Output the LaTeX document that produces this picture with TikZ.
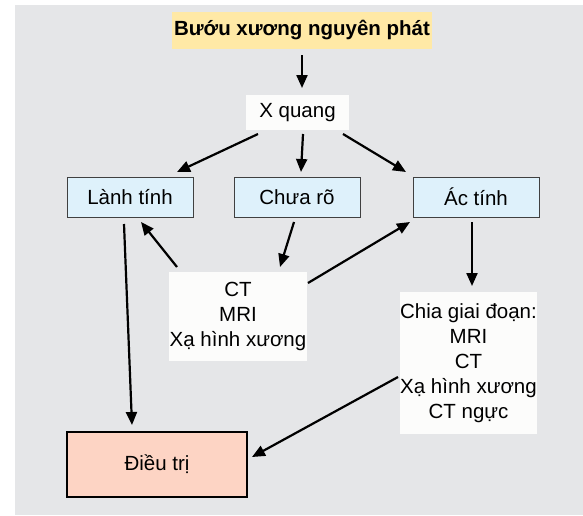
\documentclass[tikz,border=0pt]{standalone}
\usepackage{fontspec}
\setmainfont{Liberation Sans}
\usetikzlibrary{arrows.meta}
\definecolor{bggrey}{HTML}{E5E6E8}
\definecolor{titleyel}{HTML}{FFE9A6}
\definecolor{boxblue}{HTML}{DEF1FB}
\definecolor{boxsalmon}{HTML}{FDD4C4}
\definecolor{boxwhite}{HTML}{FCFCFB}
\definecolor{edgegrey}{HTML}{404040}
\begin{document}
\begin{tikzpicture}[x=1pt,y=-1pt,
  every node/.style={inner sep=0pt,outer sep=0pt,font=\fontsize{20.5}{25}\selectfont,align=center},
  titlebox/.style={fill=titleyel,minimum width=260pt,minimum height=37pt,font=\fontsize{20.5}{25}\selectfont\bfseries},
  whitebox/.style={fill=boxwhite},
  bluebox/.style={fill=boxblue,draw=edgegrey,line width=1pt,minimum width=126pt,minimum height=40pt},
  treatbox/.style={fill=boxsalmon,draw=black,line width=1.4pt,minimum width=180pt,minimum height=65pt},
  arr/.style={line width=2.2pt,-{Triangle[length=13pt,width=11pt]}}
]
\useasboundingbox (0,0) rectangle (583,515);
\fill[white] (0,0) rectangle (583,515);
\fill[bggrey] (15,5) rectangle (583,515);

\node[titlebox] (title) at (302,30.5) {Bướu xương nguyên phát};
\node[whitebox,minimum width=103pt,minimum height=35pt] (xq) at (297.5,112.5) {X quang};
\node[bluebox] (lanh) at (130,197) {Lành tính};
\node[bluebox] (chua) at (297,197) {Chưa rõ};
\node[bluebox] (ac) at (476,197) {Ác tính};
\node[whitebox,minimum width=138pt,minimum height=89pt] (ct) at (238,316.5) {CT\\MRI\\Xạ hình xương};
\node[whitebox,minimum width=137pt,minimum height=142pt] (chia) at (468.5,363) {Chia giai đoạn:\\MRI\\CT\\Xạ hình xương\\CT ngực};
\node[treatbox] (dieu) at (157,464.5) {Điều trị};

\draw[arr] ([shift={(0,24.5)}]title.center) -- ([shift={(4.5,-24.5)}]xq.center);
\draw[arr] ([shift={(-39.5,21.5)}]xq.center) -- ([shift={(47,-25)}]lanh.center);
\draw[arr] ([shift={(5.5,21.5)}]xq.center) -- ([shift={(4,-25)}]chua.center);
\draw[arr] ([shift={(45.5,21.5)}]xq.center) -- ([shift={(-70,-25)}]ac.center);
\draw[arr] ([shift={(-3,25)}]chua.center) -- ([shift={(42,-49.5)}]ct.center);
\draw[arr] ([shift={(-61,-49.5)}]ct.center) -- ([shift={(11,25)}]lanh.center);
\draw[arr] ([shift={(70,-33.5)}]ct.center) -- ([shift={(-66,25)}]ac.center);
\draw[arr] ([shift={(-4,25)}]ac.center) -- ([shift={(3.5,-77)}]chia.center);
\draw[arr] ([shift={(-6,27)}]lanh.center) -- ([shift={(-25,-39.5)}]dieu.center);
\draw[arr] ([shift={(-70.5,14)}]chia.center) -- ([shift={(95,-7.5)}]dieu.center);
\end{tikzpicture}
\end{document}
